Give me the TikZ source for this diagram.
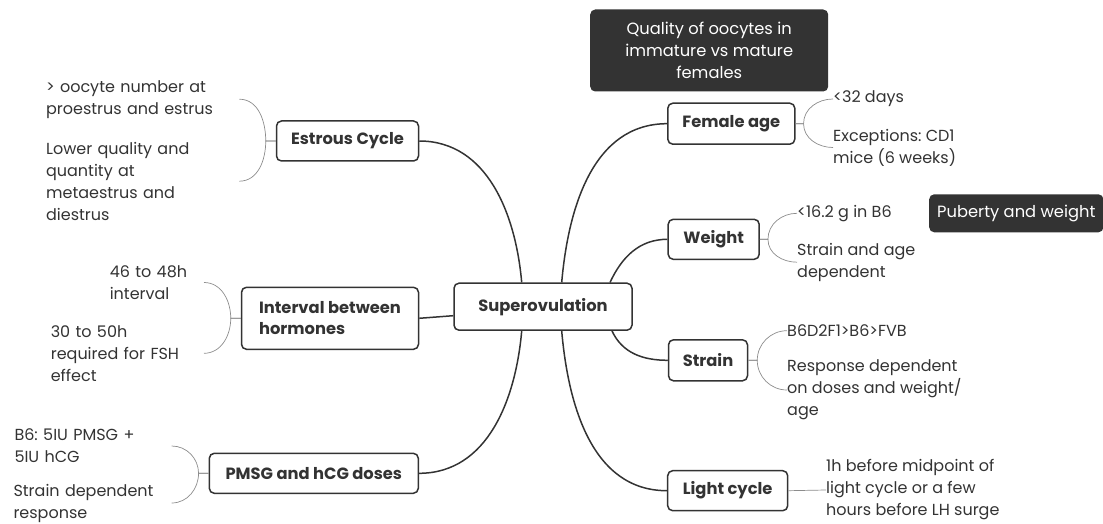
\documentclass[tikz,border=0pt]{standalone}
\usepackage{fontspec}
\setmainfont{Poppins}
\frenchspacing
\definecolor{ink}{HTML}{333333}
\definecolor{twig}{HTML}{8C8C8C}

\begin{document}
\begin{tikzpicture}[x=1pt,y=-1pt,
	topic/.style={draw=ink,line width=1.5pt,rounded corners=5pt,fill=white,text=ink,inner sep=0pt,font=\fontsize{16.3}{21}\selectfont\bfseries},
	note/.style={fill=ink,rounded corners=5pt,text=white,inner sep=0pt,align=center,font=\fontsize{16.3}{22}\selectfont},
	leaf/.style={text=ink,inner sep=0pt,align=left,font=\fontsize{16}{22}\selectfont},
	branch/.style={draw=ink,line width=1.5pt},
	twig/.style={draw=twig,line width=0.7pt}]
	\useasboundingbox (0,0) rectangle (1103,524);
	% topics
	\node[topic,minimum width=178pt,minimum height=47pt] (super) at (543,306.7) {Superovulation};
	\node[topic,minimum width=142pt,minimum height=40pt] (estrous) at (347.5,141) {Estrous Cycle};
	\node[topic,minimum width=177pt,minimum height=62pt,align=left] (interval) at (330,318.3) {Interval between\\hormones};
	\node[topic,minimum width=209pt,minimum height=40pt] (pmsg) at (313.8,473.3) {PMSG and hCG doses};
	\node[topic,minimum width=127pt,minimum height=41pt] (female) at (731.3,123.7) {Female age};
	\node[topic,minimum width=91pt,minimum height=40pt] (weight) at (713.7,239.3) {Weight};
	\node[topic,minimum width=79pt,minimum height=41pt] (strain) at (708,360.3) {Strain};
	\node[topic,minimum width=120pt,minimum height=40pt] (light) at (727.7,490.7) {Light cycle};
	% notes
	\node[note,minimum width=238pt,minimum height=82pt] (quality) at (709.2,50.5) {Quality of oocytes in\\immature vs mature\\females};
	\node[note,anchor=west,inner xsep=8pt,minimum height=38pt] (puberty) at (929,213.3) {Puberty and weight};
	% leaves
	\node[leaf,anchor=east,text width=193pt] (cycA) at (239.3,99.2) {> oocyte number at\\proestrus and estrus};
	\node[leaf,anchor=east,text width=193pt] (cycB) at (239.3,181.2) {Lower quality and\\quantity at\\metaestrus and\\diestrus};
	\node[leaf,anchor=east,text width=94pt] (intA) at (204,282.5) {46 to 48h\\interval};
	\node[leaf,anchor=east,text width=153pt] (intB) at (204,353.3) {30 to 50h\\required for FSH\\effect};
	\node[leaf,anchor=east,text width=157pt] (doseA) at (171.7,446) {B6: 5IU PMSG +\\5IU hCG};
	\node[leaf,anchor=east,text width=158pt] (doseB) at (171.7,503) {Strain dependent\\response};
	\node[leaf,anchor=west] (ageA) at (833,99) {<32 days};
	\node[leaf,anchor=west] (ageB) at (833,147.5) {Exceptions: CD1\\mice (6 weeks)};
	\node[leaf,anchor=west] (wtA) at (797,213.3) {<16.2 g in B6};
	\node[leaf,anchor=west] (wtB) at (797,262.2) {Strain and age\\dependent};
	\node[leaf,anchor=west] (strA) at (787,330.7) {B6D2F1>B6>FVB};
	\node[leaf,anchor=west] (strB) at (787,390) {Response dependent\\on doses and weight/\\age};
	\node[leaf,anchor=west] (litA) at (826,490) {1h before midpoint of\\light cycle or a few\\hours before LH surge};
	% branches
	\draw[branch] ([xshift=-21.3pt]super.north) to[out=95,in=0] (estrous.east);
	\draw[branch] ([yshift=-9pt]super.west) -- (interval.east);
	\draw[branch] ([xshift=-21.3pt]super.south) to[out=-95,in=0] (pmsg.east);
	\draw[branch] ([xshift=18.7pt]super.north) to[out=85,in=180] (female.west);
	\draw[branch] ([xshift=67pt]super.north) to[out=65,in=180] (weight.west);
	\draw[branch] ([xshift=69pt]super.south) to[out=-65,in=180] (strain.west);
	\draw[branch] ([xshift=18.7pt]super.south) to[out=-85,in=180] (light.west);
	% twigs
	\draw[twig] (estrous.west) -- ++(-10,0) to[out=90,in=0] (cycA.east);
	\draw[twig] (estrous.west) -- ++(-10,0) to[out=-90,in=0] (cycB.east);
	\draw[twig] (interval.west) -- ++(-10,0) to[out=90,in=0] (intA.east);
	\draw[twig] (interval.west) -- ++(-10,0) to[out=-90,in=0] (intB.east);
	\draw[twig] (pmsg.west) -- ++(-10,0) to[out=90,in=0] (doseA.east);
	\draw[twig] (pmsg.west) -- ++(-10,0) to[out=-90,in=0] (doseB.east);
	\draw[twig] (female.east) -- ++(8,0) to[out=90,in=180] (ageA.west);
	\draw[twig] (female.east) -- ++(8,0) to[out=-90,in=180] (ageB.west);
	\draw[twig] (weight.east) -- ++(8,0) to[out=90,in=180] (wtA.west);
	\draw[twig] (weight.east) -- ++(8,0) to[out=-90,in=180] (wtB.west);
	\draw[twig] (strain.east) -- ++(9,0) to[out=90,in=180] (strA.west);
	\draw[twig] (strain.east) -- ++(9,0) to[out=-90,in=180] (strB.west);
	\draw[twig] (light.east) -- (litA.west);
\end{tikzpicture}
\end{document}
